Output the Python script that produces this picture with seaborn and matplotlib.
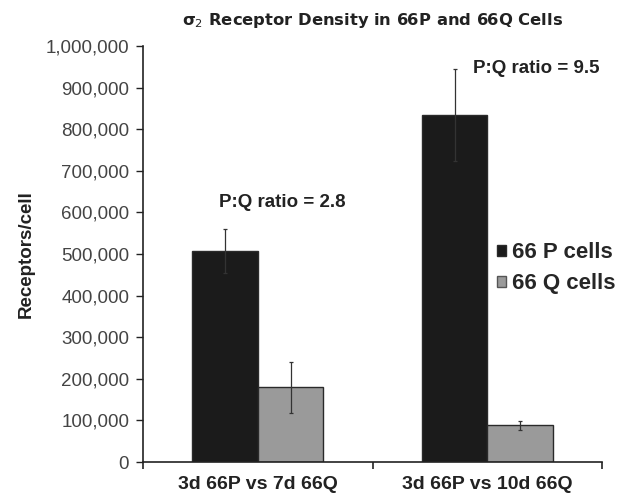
import matplotlib
matplotlib.use("Agg")
import matplotlib.pyplot as plt
import seaborn as sns
import pandas as pd
import numpy as np
from matplotlib.patches import Patch

categories = ["3d 66P vs 7d 66Q", "3d 66P vs 10d 66Q"]
series = ["66 P cells", "66 Q cells"]
p_values = [508000, 835000]
q_values = [180000, 88000]
p_errors = [53000, 111000]
q_errors = [61000, 10000]
ratio_labels = ["P:Q ratio = 2.8", "P:Q ratio = 9.5"]
y_ticks = [0, 100000, 200000, 300000, 400000, 500000, 600000, 700000, 800000, 900000, 1000000]

sns.set_theme(style="white")
plt.rcParams['font.family'] = ['Liberation Sans', 'DejaVu Sans']
plt.rcParams['mathtext.fontset'] = 'dejavusans'

df = pd.DataFrame({
    "cat": categories * 2,
    "series": [series[0]] * 2 + [series[1]] * 2,
    "val": p_values + q_values,
})

fig = plt.figure(figsize=(6.22, 4.96), dpi=100)
ax = fig.add_axes([0.23, 0.0685, 0.738, 0.8385])

sns.barplot(data=df, x="cat", y="val", hue="series", order=categories, hue_order=series,
            palette=["#1b1b1b", "#9a9a9a"], width=0.57, errorbar=None, ax=ax,
            edgecolor="#2a2a2a", linewidth=1.0, legend=False)

# error bars placed on the bar patches
bars = [p for p in ax.patches if p.get_height() > 0]
errs = list(p_errors) + list(q_errors)
for patch, e in zip(bars, errs):
    cx = patch.get_x() + patch.get_width() / 2
    ax.errorbar(cx, patch.get_height(), yerr=e, color="#333333", elinewidth=0.9,
                capsize=1.5, capthick=0.9, fmt="none")

ax.set_xlim(-0.5, 1.5)
ax.set_ylim(0, 1000000)
ax.set_yticks(y_ticks)
ax.set_yticklabels([f"{v:,}" for v in y_ticks], fontsize=13.5, color="#444444")
ax.set_xticks([0, 1])
ax.set_xticklabels(categories, fontsize=14, fontweight="bold", color="#222222")
ax.set_xticks([-0.5, 0.5, 1.5], minor=True)
ax.tick_params(axis="x", which="major", length=0, pad=10)
ax.tick_params(axis="x", which="minor", length=5, width=1.2, color="#222222", direction="out", bottom=True)
ax.tick_params(axis="y", which="major", length=5, width=1.0, color="#222222", direction="out", left=True, pad=5)

for side in ["top", "right"]:
    ax.spines[side].set_visible(False)
for side in ["left", "bottom"]:
    ax.spines[side].set_color("#222222")
    ax.spines[side].set_linewidth(1.2)

ax.set_xlabel("")
ax.set_ylabel("Receptors/cell", fontsize=13.5, fontweight="bold", color="#222222", labelpad=8)
ax.set_title("σ$_2$ Receptor Density in 66P and 66Q Cells", fontsize=11.8, fontweight="bold",
             color="#222222", pad=15, family=["DejaVu Sans"])

ax.text(0.106, 624000, ratio_labels[0], fontsize=13.5, fontweight="bold", color="#222222",
        ha="center", va="center")
ax.text(0.938, 947000, ratio_labels[1], fontsize=13.5, fontweight="bold", color="#222222",
        ha="left", va="center")

handles = [Patch(facecolor="#1b1b1b", edgecolor="#2a2a2a"), Patch(facecolor="#9a9a9a", edgecolor="#555555")]
ax.legend(handles, series, loc="center left", bbox_to_anchor=(0.752, 0.466), frameon=False,
          prop={"weight": "bold", "size": 16}, handlelength=0.38, handleheight=0.38,
          handletextpad=0.3, labelspacing=0.45, borderaxespad=0)

fig.savefig("out.png", dpi=100, facecolor="white")
